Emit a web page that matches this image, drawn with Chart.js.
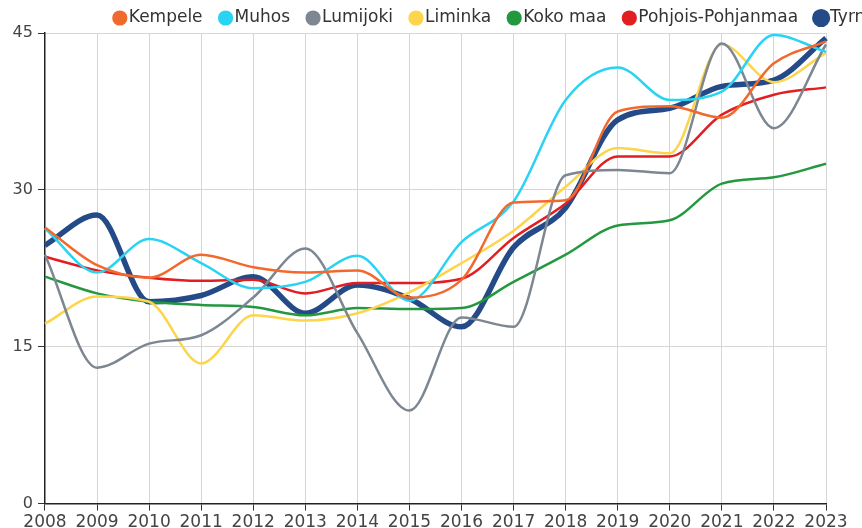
<!DOCTYPE html>
<html>
<head>
<meta charset="utf-8">
<script src="https://cdn.jsdelivr.net/npm/chart.js@4/dist/chart.umd.min.js"></script>
<style>
  html, body { margin: 0; padding: 0; background: #fff; overflow: hidden; }
  #wrap { width: 862px; height: 528px; overflow: hidden; position: relative; }
  canvas { display: block; }
</style>
</head>
<body>
<div id="wrap"><canvas id="c" width="1008" height="535"></canvas></div>
<script>
const years = ["2008","2009","2010","2011","2012","2013","2014","2015","2016","2017","2018","2019","2020","2021","2022","2023"];
const yTicks = [0, 15, 30, 45];

const kempele   = [26.4, 22.8, 21.6, 23.8, 22.6, 22.1, 22.3, 19.7, 21.4, 28.8, 29.0, 37.5, 38.0, 36.9, 42.1, 44.2];
const muhos     = [26.3, 22.1, 25.3, 23.0, 20.6, 21.2, 23.7, 19.4, 25.0, 28.9, 38.6, 41.7, 38.6, 39.4, 44.8, 43.2];
const lumijoki  = [23.8, 13.0, 15.3, 16.1, 19.7, 24.4, 16.3, 8.9, 17.8, 16.9, 31.4, 31.9, 31.6, 44.0, 35.9, 43.9];
const liminka   = [17.2, 19.8, 19.3, 13.4, 18.0, 17.5, 18.2, 20.2, 23.0, 26.1, 30.3, 34.0, 33.5, 43.9, 40.3, 43.1];
const kokoMaa   = [21.7, 20.1, 19.3, 19.0, 18.8, 18.0, 18.7, 18.6, 18.7, 21.2, 23.8, 26.6, 27.1, 30.6, 31.2, 32.5];
const pohjois   = [23.6, 22.3, 21.6, 21.3, 21.4, 20.1, 21.1, 21.1, 21.5, 25.4, 28.7, 33.2, 33.2, 37.2, 39.1, 39.8];
const tyrnava   = [24.7, 27.6, 19.3, 19.9, 21.7, 18.2, 20.9, 19.6, 16.9, 24.5, 28.3, 36.7, 37.8, 39.9, 40.5, 44.5];

const seriesNames = ["Kempele", "Muhos", "Lumijoki", "Liminka", "Koko maa", "Pohjois-Pohjanmaa", "Tyrnävä"];
const seriesData = [kempele, muhos, lumijoki, liminka, kokoMaa, pohjois, tyrnava];
const seriesColors = ["#f2692e", "#2bd3f2", "#7d8792", "#fdd54c", "#24983f", "#e11f22", "#244b88"];
const seriesWidths = [2.5, 2.5, 2.5, 2.5, 2.5, 2.5, 5.5];

const FONT = "'DejaVu Sans', sans-serif";

const datasets = seriesNames.map((name, i) => ({
  label: name,
  data: seriesData[i],
  borderColor: seriesColors[i],
  backgroundColor: seriesColors[i],
  borderWidth: seriesWidths[i],
  pointRadius: 0,
  pointHoverRadius: 0,
  cubicInterpolationMode: 'monotone',
  fill: false,
  yAxisID: 'y'
}));

new Chart(document.getElementById('c'), {
  type: 'line',
  data: { labels: years, datasets },
  options: {
    responsive: false,
    animation: false,
    events: [],
    layout: { padding: { top: -13, left: 7.6, right: 0, bottom: 0 } },
    plugins: {
      tooltip: { enabled: false },
      legend: {
        position: 'top',
        maxHeight: 46,
        labels: {
          usePointStyle: true,
          pointStyle: 'circle',
          boxWidth: 1,
          boxHeight: 9,
          padding: 22.5,
          color: '#333',
          font: { family: FONT, size: 17 }
        }
      }
    },
    scales: {
      x: {
        offset: false,
        grid: { color: '#d6d6d6', lineWidth: 1, tickColor: '#333', tickLength: 7 },
        border: { color: '#222', width: 1.5 },
        ticks: { color: '#444', font: { family: FONT, size: 17 }, padding: 2, maxRotation: 0, autoSkip: false }
      },
      y: {
        min: 0,
        max: 45,
        afterBuildTicks: (s) => { s.ticks = yTicks.map(v => ({ value: v })); },
        grid: { color: '#d6d6d6', lineWidth: 1, tickColor: '#333', tickLength: 7 },
        border: { color: '#222', width: 1.5 },
        ticks: { color: '#444', font: { family: FONT, size: 16 }, padding: 5 }
      },
      yR: {
        type: 'linear',
        position: 'right',
        display: true,
        grid: { display: false },
        border: { display: false },
        ticks: { display: false },
        afterFit: (s) => { s.width = 182; }
      }
    }
  }
});
</script>
</body>
</html>
